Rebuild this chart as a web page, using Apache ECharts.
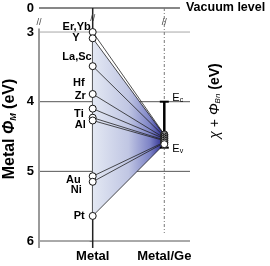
<!DOCTYPE html>
<html><head><meta charset="utf-8">
<script src="https://cdn.jsdelivr.net/npm/echarts@6/dist/echarts.min.js"></script>
<style>html,body{margin:0;padding:0;background:#fff}#c{width:270px;height:266px}</style>
</head><body><div id="c"></div>
<script>
// ---------- data ----------
const categories = ['Metal', 'Metal/Ge'];
const metals  = ['Er,Yb', 'Y', 'La,Sc', 'Hf', 'Zr', 'Ti', 'Al', 'Au', 'Ni', 'Pt'];
const metalWF = [3.00, 3.09, 3.49, 3.89, 4.10, 4.23, 4.27, 5.07, 5.15, 5.64];
const geLevel = [4.47, 4.48, 4.50, 4.52, 4.53, 4.55, 4.56, 4.58, 4.59, 4.61];
const yTickValues = [3, 4, 5, 6];
const vacuumLevel = 0;
const geEc = 4.00;
const geEv = 4.66;

// ---------- layout (not data) ----------
const BREAK = 2.655;          // axis position where the vacuum level (0) is drawn (broken axis)
const X_MIN = -0.75, X_MAX = 1.359;
const VAC_END = 1.219;
const labelShift = [[6,-5],[-5,0],[7,-9],[0,-11],[1,-13],[-1,-3.5],[1,4.5],[-4,4],[-3,8.5],[0,0]];
const FONT = 'Liberation Sans, Arial, Helvetica, sans-serif';

const chart = echarts.init(document.getElementById('c'), null, {renderer: 'canvas'});

function lineEl(a, b, stroke, w, dash) {
  const s = {stroke: stroke, lineWidth: w};
  if (dash) s.lineDash = dash;
  return {type: 'line', shape: {x1: a[0], y1: a[1], x2: b[0], y2: b[1]}, style: s};
}

function frameItem(params, api) {
  const c = p => api.coord(p);
  const ch = [];
  yTickValues.forEach(v => {
    ch.push(lineEl(c([X_MIN, v]), c([X_MAX, v]), v === 3 ? '#a8a8a8' : '#555', 1));
  });
  // vacuum level
  ch.push(lineEl(c([X_MIN, BREAK]), c([VAC_END, BREAK]), '#111', 1.2));
  const ve = c([VAC_END, BREAK]);
  ch.push({type: 'text', x: ve[0] + 6, y: ve[1], style: {text: 'Vacuum level', fill: '#000',
    font: 'bold 12.5px ' + FONT, align: 'left', verticalAlign: 'middle'}});
  // left axis line
  ch.push(lineEl(c([X_MIN, 2.95]), c([X_MIN, 6.1]), '#9a9a9a', 2));
  // metal line
  ch.push(lineEl(c([0, BREAK]), c([0, 6.1]), '#222', 1.5));
  // metal/Ge dotted line
  ch.push(lineEl(c([1, BREAK]), c([1, 5.885]), '#777', 1, [3, 2, 1, 2]));
  // break marks
  [[X_MIN, 2.86], [0, 2.80], [1, 2.87]].forEach(p => {
    const q = c(p);
    ch.push({type: 'text', x: q[0], y: q[1], style: {text: '//', fill: '#444',
      font: '9px ' + FONT, align: 'center', verticalAlign: 'middle'}});
  });
  return {type: 'group', children: ch};
}

function fillItem(params, api) {
  const pts = [[0, metalWF[1]], [1, Math.min(...geLevel)], [1, Math.max(...geLevel)], [0, metalWF[metalWF.length - 1]]]
    .map(p => api.coord(p));
  return {type: 'polygon', shape: {points: pts}, style: {
    fill: new echarts.graphic.LinearGradient(0, 0, 1, 0, [
      {offset: 0, color: '#e3e8f3'}, {offset: 0.5, color: '#c0c6e3'},
      {offset: 0.8, color: '#7d83c6'}, {offset: 1, color: '#23238a'}])}};
}

function connItem(params, api) {
  const a = api.coord([0, api.value(0)]);
  const b = api.coord([1, api.value(1)]);
  return lineEl(a, b, '#222', 0.8);
}

function bandItem(params, api) {
  const t = api.coord([1, api.value(0)]);
  const b = api.coord([1, api.value(1)]);
  const rich = {e: {fontSize: 11, fontFamily: FONT, fill: '#000', color: '#000'},
                s: {fontSize: 7, fontFamily: FONT, verticalAlign: 'bottom', padding: [5, 0, 0, 0], color: '#000'}};
  return {type: 'group', children: [
    lineEl(t, b, '#000', 2.5),
    lineEl([t[0] - 4.5, t[1]], [t[0] + 4.5, t[1]], '#000', 2),
    lineEl([b[0] - 4.5, b[1]], [b[0] + 4.5, b[1]], '#000', 2),
    {type: 'text', x: t[0] + 8, y: t[1] - 4, style: {text: '{e|E}{s|c}', rich: rich, align: 'left', verticalAlign: 'middle'}},
    {type: 'text', x: b[0] + 8, y: b[1] + 1, style: {text: '{e|E}{s|v}', rich: rich, align: 'left', verticalAlign: 'middle'}}
  ]};
}

const option = {
  animation: false,
  backgroundColor: '#fff',
  textStyle: {fontFamily: FONT},
  grid: {left: 39, right: 80, top: 8, bottom: 25, containLabel: false},
  xAxis: {
    type: 'value', min: X_MIN, max: X_MAX,
    axisLine: {show: false}, axisTick: {show: false}, splitLine: {show: false},
    axisLabel: {customValues: [0, 1], formatter: v => categories[Math.round(v)],
      fontWeight: 'bold', fontSize: 13, color: '#000', margin: 9, fontFamily: FONT}
  },
  yAxis: {
    type: 'value', inverse: true, min: BREAK, max: 6,
    axisLine: {show: false}, splitLine: {show: false},
    axisTick: {show: true, customValues: yTickValues, length: 3, lineStyle: {color: '#9a9a9a', width: 1}},
    axisLabel: {customValues: [BREAK].concat(yTickValues),
      formatter: v => (v < 3 ? String(vacuumLevel) : String(v)),
      fontWeight: 'bold', fontSize: 13, color: '#000', margin: 5, fontFamily: FONT}
  },
  graphic: [{
    type: 'text', x: 10, y: 129, rotation: Math.PI / 2,
    style: {text: 'Metal {p|Φ}{m|M} (eV)', align: 'center', verticalAlign: 'middle',
      fill: '#000', font: 'bold 16px ' + FONT,
      rich: {p: {fontStyle: 'italic', fontWeight: 'bold', fontSize: 16, fontFamily: FONT, color: '#000'},
             m: {fontStyle: 'italic', fontWeight: 'bold', fontSize: 9, fontFamily: FONT, color: '#000',
                 verticalAlign: 'bottom', padding: [6, 0, 0, 0]}}}
  }, {
    type: 'text', x: 215, y: 101, rotation: Math.PI / 2,
    style: {text: '{i|χ} + {i|Φ}{s|Bn} {b|(eV)}', align: 'center', verticalAlign: 'middle',
      fill: '#000', font: '14px ' + FONT,
      rich: {i: {fontStyle: 'italic', fontSize: 14, fontFamily: FONT, color: '#000'},
             s: {fontStyle: 'italic', fontSize: 8, fontFamily: FONT, color: '#000', verticalAlign: 'bottom', padding: [6, 0, 0, 0]},
             b: {fontWeight: 'bold', fontSize: 14, fontFamily: FONT, color: '#000'}}}
  }],
  series: [
    {type: 'custom', z: 1, silent: true, renderItem: frameItem, data: [[0, 3]]},
    {type: 'custom', z: 2, silent: true, renderItem: fillItem, data: [[0, 3]]},
    {type: 'custom', z: 3, silent: true, renderItem: connItem,
      encode: {x: -1, y: [0, 1]},
      data: metalWF.map((m, i) => [m, geLevel[i]])},
    {type: 'custom', z: 4, silent: true, renderItem: bandItem,
      encode: {x: -1, y: [0, 1]}, data: [[geEc, geEv]]},
    {type: 'scatter', z: 5, symbol: 'circle', symbolSize: 7,
      itemStyle: {color: '#fff', borderColor: '#111', borderWidth: 1, opacity: 1},
      data: metalWF.map((v, i) => ({value: [0, v], name: metals[i],
        label: {offset: labelShift[i]}})),
      label: {show: true, position: 'left', distance: 4, formatter: p => p.name,
        fontWeight: 'bold', fontSize: 11, color: '#000', fontFamily: FONT}},
    {type: 'scatter', z: 5, symbol: 'circle', symbolSize: 7,
      itemStyle: {color: '#fff', borderColor: '#111', borderWidth: 1, opacity: 1},
      data: geLevel.map(v => [1, v])}
  ]
};
chart.setOption(option);
</script>
</body></html>
